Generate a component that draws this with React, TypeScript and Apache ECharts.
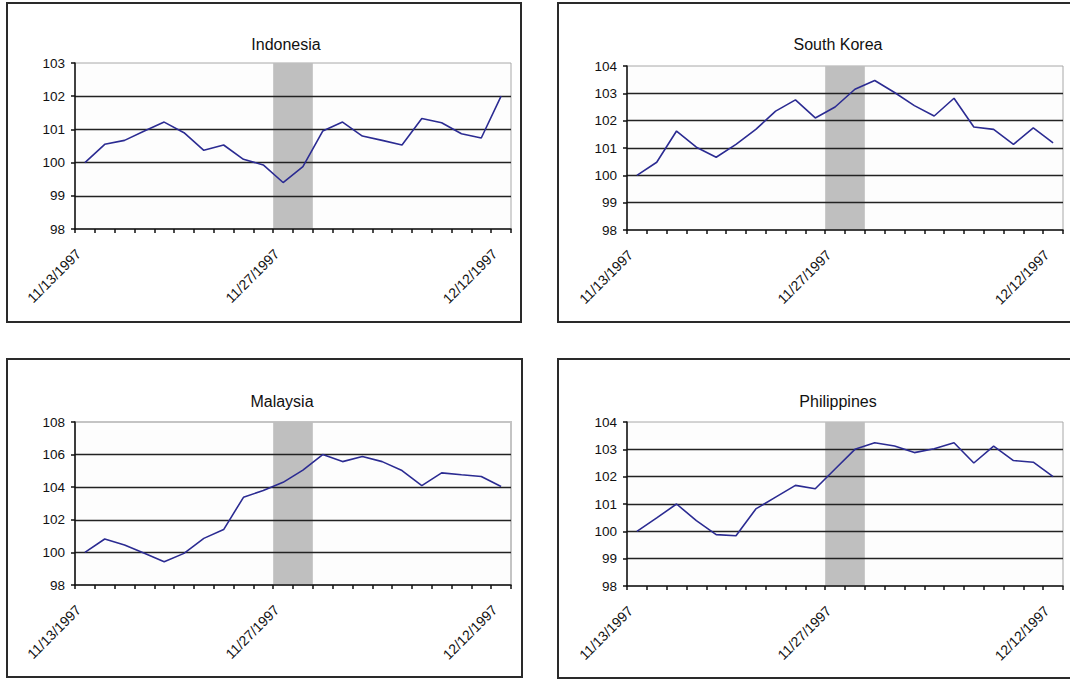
import React, { useEffect, useRef } from "react";
import * as echarts from "echarts";

// Trading days shown on the category axis
const DATES = [
  "11/13/1997", "11/14/1997", "11/17/1997", "11/18/1997", "11/19/1997", "11/20/1997",
  "11/21/1997", "11/24/1997", "11/25/1997", "11/26/1997", "11/27/1997", "11/28/1997",
  "12/1/1997", "12/2/1997", "12/3/1997", "12/4/1997", "12/5/1997", "12/8/1997",
  "12/9/1997", "12/10/1997", "12/11/1997", "12/12/1997",
];
// Only these category labels are printed
const LABEL_IDX = [0, 10, 21];
// Shaded band: from the start of category 10 to the end of category 11
const SHADE_FROM = 10;
const SHADE_TO = 12;

const INDONESIA = [
  100.0, 100.55, 100.67, 100.95, 101.22, 100.9, 100.37, 100.53, 100.1, 99.93, 99.4,
  99.88, 100.95, 101.22, 100.8, 100.67, 100.53, 101.33, 101.2, 100.87, 100.74, 102.0,
];
const SOUTH_KOREA = [
  100.0, 100.48, 101.62, 101.03, 100.66, 101.13, 101.68, 102.35, 102.76, 102.1, 102.5,
  103.15, 103.47, 103.03, 102.55, 102.17, 102.82, 101.77, 101.68, 101.13, 101.74, 101.19,
];
const MALAYSIA = [
  100.0, 100.82, 100.45, 99.95, 99.43, 99.94, 100.86, 101.4, 103.38, 103.8, 104.3,
  105.05, 106.0, 105.57, 105.88, 105.57, 105.02, 104.1, 104.88, 104.76, 104.66, 104.04,
];
const PHILIPPINES = [
  100.0, 100.49, 101.0, 100.39, 99.88, 99.84, 100.82, 101.25, 101.68, 101.56, 102.28,
  103.0, 103.24, 103.12, 102.88, 103.02, 103.24, 102.5, 103.12, 102.59, 102.53, 102.0,
];

const TITLES = ["Indonesia", "South Korea", "Malaysia", "Philippines"];
const SERIES = [INDONESIA, SOUTH_KOREA, MALAYSIA, PHILIPPINES];
const Y_MIN = [98, 98, 98, 98];
const Y_MAX = [103, 104, 108, 104];
const Y_STEP = [1, 1, 2, 1];

// layout (pixels)
const GRIDS = [
  { left: 75, top: 63, width: 436, height: 166 },
  { left: 627, top: 66, width: 436, height: 164 },
  { left: 75, top: 422, width: 436, height: 163 },
  { left: 627, top: 422, width: 436, height: 164 },
];
const TITLE_POS = [
  { x: 286, y: 36 },
  { x: 838, y: 36 },
  { x: 282, y: 393 },
  { x: 838, y: 393 },
];
const FRAMES = [
  { x: 7, y: 3, w: 514, h: 319 },
  { x: 558, y: 3, w: 530, h: 319 },
  { x: 7, y: 359, w: 515, h: 318 },
  { x: 558, y: 359, w: 530, h: 319 },
];

const FONT = "'Liberation Sans', Arial, sans-serif";

export default function App() {
  const ref = useRef<HTMLDivElement>(null);

  useEffect(() => {
    if (!ref.current) return;
    const chart = echarts.init(ref.current, undefined, { renderer: "svg" });

    const grid: any[] = [];
    const xAxis: any[] = [];
    const yAxis: any[] = [];
    const series: any[] = [];
    const title: any[] = [];

    for (let i = 0; i < 4; i++) {
      const g = GRIDS[i];
      grid.push({
        left: g.left,
        top: g.top,
        width: g.width,
        height: g.height,
        show: true,
        backgroundColor: "#fdfdfd",
        borderColor: i === 2 ? "#c4c4c4" : "#a8a8a8",
        borderWidth: i === 2 ? 2 : 1,
      });
      xAxis.push({
        type: "category",
        gridIndex: i,
        data: DATES,
        boundaryGap: true,
        z: 3,
        axisLine: { show: true, lineStyle: { color: "#111", width: 1.5 } },
        axisTick: { show: true, interval: 0, inside: false, length: 4, lineStyle: { color: "#111", width: 1.5 } },
        axisLabel: {
          show: true,
          interval: (idx: number) => LABEL_IDX.includes(idx),
          rotate: 45,
          margin: 16,
          padding: [0, 9, 0, 0],
          fontSize: 14,
          fontFamily: FONT,
          color: "#111",
        },
        splitLine: { show: false },
      });
      xAxis.push({
        type: "value",
        gridIndex: i,
        min: 0,
        max: DATES.length,
        show: false,
      });
      yAxis.push({
        type: "value",
        gridIndex: i,
        min: Y_MIN[i],
        max: Y_MAX[i],
        interval: Y_STEP[i],
        z: 3,
        axisLine: { show: true, lineStyle: { color: "#111", width: 1.5 } },
        axisTick: { show: true, inside: false, length: 4, lineStyle: { color: "#111", width: 1.5 } },
        axisLabel: { margin: 10, fontSize: 13.5, fontFamily: FONT, color: "#111" },
        splitLine: {
          show: true,
          showMinLine: false,
          showMaxLine: false,
          lineStyle: { color: "#222", width: 1.3 },
        },
      });
      series.push({
        type: "line",
        name: TITLES[i] + " shade",
        xAxisIndex: 2 * i + 1,
        yAxisIndex: i,
        data: [],
        z: 2,
        silent: true,
        markArea: {
          silent: true,
          itemStyle: { color: "#bfbfbf", opacity: 1 },
          data: [[{ xAxis: SHADE_FROM }, { xAxis: SHADE_TO }]],
        },
      });
      series.push({
        type: "line",
        name: TITLES[i],
        xAxisIndex: 2 * i,
        yAxisIndex: i,
        data: SERIES[i],
        z: 5,
        symbol: "none",
        lineStyle: { color: "#2b2b92", width: 1.6 },
      });
      title.push({
        text: TITLES[i],
        left: TITLE_POS[i].x,
        top: TITLE_POS[i].y,
        textAlign: "center",
        padding: 0,
        textStyle: { fontSize: 16, fontWeight: "normal", fontFamily: FONT, color: "#111" },
      });
    }

    const graphic = FRAMES.map((f) => ({
      type: "rect",
      silent: true,
      z: 10,
      shape: { x: f.x, y: f.y, width: f.w, height: f.h },
      style: { fill: "none", stroke: "#2a2a2a", lineWidth: 2 },
    }));

    chart.setOption({
      animation: false,
      backgroundColor: "#ffffff",
      title,
      grid,
      xAxis,
      yAxis,
      series,
      graphic,
    });

    return () => chart.dispose();
  }, []);

  return (
    <div
      ref={ref}
      style={{ position: "absolute", left: 0, top: 0, width: 1070, height: 680, background: "#fff" }}
    />
  );
}
